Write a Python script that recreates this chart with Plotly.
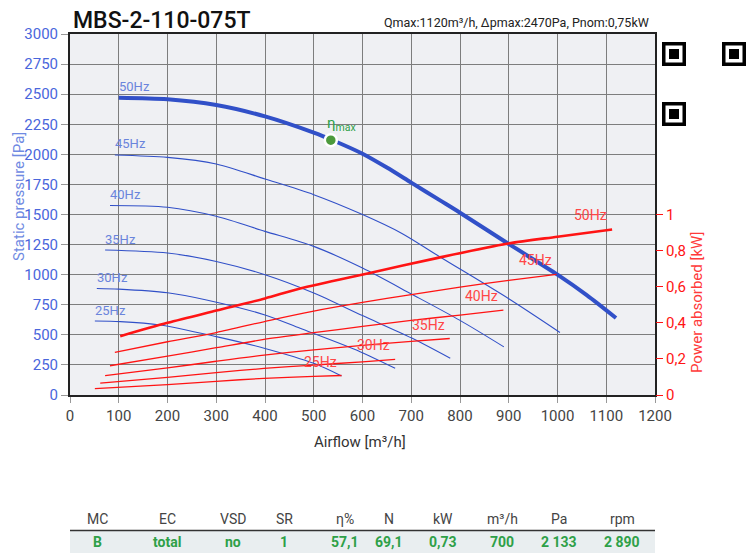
import plotly.graph_objects as go

# ---------------- data ----------------
freqs = ["50Hz", "45Hz", "40Hz", "35Hz", "30Hz", "25Hz"]

# static pressure curves [Pa] vs airflow [m3/h]
p_x_50 = [100, 200, 300, 400, 500, 540, 600, 650, 700, 760, 800, 900, 1000, 1060, 1120]
p_y_50 = [2470, 2457, 2410, 2315, 2180, 2115, 2005, 1890, 1765, 1615, 1515, 1255, 1000, 830, 640]
p_x_45 = [92, 200, 300, 400, 500, 600, 680, 760, 900, 1005]
p_y_45 = [1995, 1975, 1920, 1795, 1665, 1500, 1345, 1145, 800, 520]
p_x_40 = [82, 200, 300, 400, 500, 600, 700, 800, 890]
p_y_40 = [1575, 1560, 1485, 1360, 1235, 1055, 840, 620, 400]
p_x_35 = [72, 200, 300, 400, 500, 600, 700, 780]
p_y_35 = [1205, 1180, 1110, 1000, 848, 660, 475, 305]
p_x_30 = [55, 100, 200, 280, 400, 472, 595, 667]
p_y_30 = [885, 880, 850, 790, 665, 554, 360, 222]
p_x_25 = [51, 103, 185, 300, 400, 500, 557]
p_y_25 = [615, 610, 582, 485, 387, 263, 158]

# absorbed power curves [kW] vs airflow [m3/h]
w_x_50 = [103, 200, 300, 400, 472, 615, 750, 896, 1000, 1112]
w_y_50 = [0.326, 0.40, 0.468, 0.535, 0.59, 0.676, 0.757, 0.838, 0.877, 0.917]
w_x_45 = [92, 200, 300, 410, 500, 600, 700, 800, 900, 998]
w_y_45 = [0.236, 0.295, 0.346, 0.414, 0.465, 0.513, 0.556, 0.598, 0.635, 0.668]
w_x_40 = [82, 200, 300, 398, 500, 600, 700, 800, 889]
w_y_40 = [0.162, 0.215, 0.262, 0.308, 0.345, 0.38, 0.413, 0.443, 0.47]
w_x_35 = [72, 200, 300, 398, 500, 600, 700, 779]
w_y_35 = [0.107, 0.15, 0.187, 0.221, 0.25, 0.275, 0.297, 0.313]
w_x_30 = [62, 200, 300, 398, 500, 600, 667]
w_y_30 = [0.066, 0.098, 0.124, 0.147, 0.166, 0.184, 0.197]
w_x_25 = [51, 200, 300, 398, 500, 557]
w_y_25 = [0.035, 0.058, 0.076, 0.092, 0.103, 0.108]

eta_x = [535]
eta_y = [2118]

x_ticks = list(range(0, 1300, 100))
y_ticks = list(range(0, 3250, 250))
y2_ticks = [0, 0.2, 0.4, 0.6, 0.8, 1]
y2_ticktext = ["0", "0,2", "0,4", "0,6", "0,8", "1"]

table_headers = ["MC", "EC", "VSD", "SR", "η%", "N", "kW", "m³/h", "Pa", "rpm"]
table_values = ["B", "total", "no", "1", "57,1", "69,1", "0,73", "700", "2 133", "2 890"]

title_text = "MBS-2-110-075T"
subtitle_text = "Qmax:1120m³/h, Δpmax:2470Pa, Pnom:0,75kW"

# ---------------- styling ----------------
FONT = "Roboto"
BLUE = "#3150c8"
BLUE_LBL = "#6a84dc"
BLUE_TICK = "#4a66dc"
RED = "#ff1414"
RED_LBL = "#ff4646"
GREEN = "#2ea048"

# the page body adds an 8px offset; figure is sized to fit the window
OFF = 8
W, H = 756 - OFF, 553 - OFF
# plot-area edges in page pixels
L, R, T, B = 70, 655, 34, 395


def px(xp):
    return (xp - L) / (R - L)


def py(yp):
    return (B - yp) / (B - T)


fig = go.Figure()

p_sets = [(p_x_50, p_y_50), (p_x_45, p_y_45), (p_x_40, p_y_40),
          (p_x_35, p_y_35), (p_x_30, p_y_30), (p_x_25, p_y_25)]
w_sets = [(w_x_50, w_y_50), (w_x_45, w_y_45), (w_x_40, w_y_40),
          (w_x_35, w_y_35), (w_x_30, w_y_30), (w_x_25, w_y_25)]

annotations = []
for i, (f, (xs, ys)) in enumerate(zip(freqs, p_sets)):
    fig.add_trace(go.Scatter(
        x=xs, y=ys, mode="lines",
        line=dict(color=BLUE, width=4 if i == 0 else 1.1, shape="spline", smoothing=0.8),
        hoverinfo="skip", showlegend=False))
    annotations.append(dict(x=xs[0], y=ys[0], xref="x", yref="y", text=f, showarrow=False,
                            xanchor="left", yanchor="middle", xshift=-2, yshift=11,
                            font=dict(family=FONT, size=13, color=BLUE_LBL)))

for i, (f, (xs, ys)) in enumerate(zip(freqs, w_sets)):
    fig.add_trace(go.Scatter(
        x=xs, y=ys, yaxis="y2", mode="lines",
        line=dict(color=RED, width=2.6 if i == 0 else 1.3, shape="spline", smoothing=0.8),
        hoverinfo="skip", showlegend=False))
    annotations.append(dict(x=xs[-1], y=ys[-1], xref="x", yref="y2", text=f, showarrow=False,
                            xanchor="right", yanchor="middle", xshift=-3, yshift=14,
                            font=dict(family=FONT, size=14, color=RED_LBL)))

fig.add_trace(go.Scatter(
    x=eta_x, y=eta_y, mode="markers",
    marker=dict(size=12, color="#4c9a3c", line=dict(color="white", width=2.5)),
    hoverinfo="skip", showlegend=False))
annotations.append(dict(x=eta_x[0], y=eta_y[0], xref="x", yref="y",
                        text="η<sub>max</sub>", showarrow=False, xanchor="left", yanchor="middle",
                        xshift=-6, yshift=16, font=dict(family=FONT, size=15, color=GREEN)))

# title & subtitle
annotations.append(dict(x=px(71), y=py(21), xref="paper", yref="paper", text=title_text,
                        showarrow=False, xanchor="left", yanchor="middle",
                        font=dict(family=FONT, size=23, color="#111", weight=500)))
annotations.append(dict(x=px(651), y=py(22), xref="paper", yref="paper", text=subtitle_text,
                        showarrow=False, xanchor="right", yanchor="middle",
                        font=dict(family=FONT, size=12.5, color="#222")))

# axis titles
annotations.append(dict(x=px(19), y=py(197), xref="paper", yref="paper",
                        text="Static pressure [Pa]", textangle=-90, showarrow=False,
                        xanchor="center", yanchor="middle",
                        font=dict(family=FONT, size=15, color="#6f8ae2")))
annotations.append(dict(x=px(697), y=py(303), xref="paper", yref="paper",
                        text="Power absorbed [kW]", textangle=-90, showarrow=False,
                        xanchor="center", yanchor="middle",
                        font=dict(family=FONT, size=15, color="#ff3a3a")))
annotations.append(dict(x=px(360), y=py(442), xref="paper", yref="paper",
                        text="Airflow [m³/h]", showarrow=False,
                        xanchor="center", yanchor="middle",
                        font=dict(family=FONT, size=15, color="#333")))

# table
col_x = [97, 167, 233, 284, 345, 389, 443, 502, 559, 622]
for cx, h, v in zip(col_x, table_headers, table_values):
    annotations.append(dict(x=px(cx), y=py(519), xref="paper", yref="paper", text=h,
                            showarrow=False, xanchor="center", yanchor="middle",
                            font=dict(family=FONT, size=14, color="#444")))
    annotations.append(dict(x=px(cx), y=py(542), xref="paper", yref="paper", text="<b>" + v + "</b>",
                            showarrow=False, xanchor="center", yanchor="middle",
                            font=dict(family=FONT, size=14, color=GREEN)))

shapes = [
    dict(type="rect", xref="paper", yref="paper", x0=px(70), x1=px(655), y0=py(553), y1=py(531),
         fillcolor="#e9eef0", line=dict(width=0), layer="below"),
    dict(type="line", xref="paper", yref="paper", x0=px(70), x1=px(655), y0=py(530.5), y1=py(530.5),
         line=dict(color="#333", width=1.5)),
]

# QR-like finder patterns (decorative)
for qx, qy in [(662, 42), (722, 42), (662, 102)]:
    shapes.append(dict(type="rect", xref="paper", yref="paper", x0=px(qx), x1=px(qx + 24),
                       y0=py(qy + 24), y1=py(qy), fillcolor="black", line=dict(width=0)))
    shapes.append(dict(type="rect", xref="paper", yref="paper", x0=px(qx + 3.5), x1=px(qx + 20.5),
                       y0=py(qy + 20.5), y1=py(qy + 3.5), fillcolor="white", line=dict(width=0)))
    shapes.append(dict(type="rect", xref="paper", yref="paper", x0=px(qx + 7), x1=px(qx + 17),
                       y0=py(qy + 17), y1=py(qy + 7), fillcolor="black", line=dict(width=0)))

fig.update_layout(
    width=W, height=H,
    margin=dict(l=L - OFF, r=W - (R - OFF), t=T - OFF, b=H - (B - OFF), pad=0),
    paper_bgcolor="white",
    plot_bgcolor="#eff0f3",
    showlegend=False,
    font=dict(family=FONT),
    annotations=annotations,
    shapes=shapes,
    xaxis=dict(range=[0, 1200], tickvals=x_ticks, showgrid=True, gridcolor="#7d7d7d", gridwidth=1,
               zeroline=False, showline=True, linecolor="#222", linewidth=2, mirror=True,
               ticks="outside", ticklen=6, tickcolor="#999", tickwidth=1,
               tickfont=dict(family=FONT, size=15, color="#444")),
    yaxis=dict(range=[0, 3000], tickvals=y_ticks, showgrid=True, gridcolor="#7d7d7d", gridwidth=1,
               zeroline=False, showline=True, linecolor="#222", linewidth=2, mirror=True,
               ticks="outside", ticklen=7, tickcolor="#999", tickwidth=1,
               tickfont=dict(family=FONT, size=15, color=BLUE_TICK)),
    yaxis2=dict(range=[0, 2], overlaying="y", side="right", tickvals=y2_ticks, ticktext=y2_ticktext,
                showgrid=False, zeroline=False, showline=False,
                ticks="outside", ticklen=7, tickcolor=RED, tickwidth=1,
                tickfont=dict(family=FONT, size=15, color=RED)),
)

fig.write_html("out.html")
